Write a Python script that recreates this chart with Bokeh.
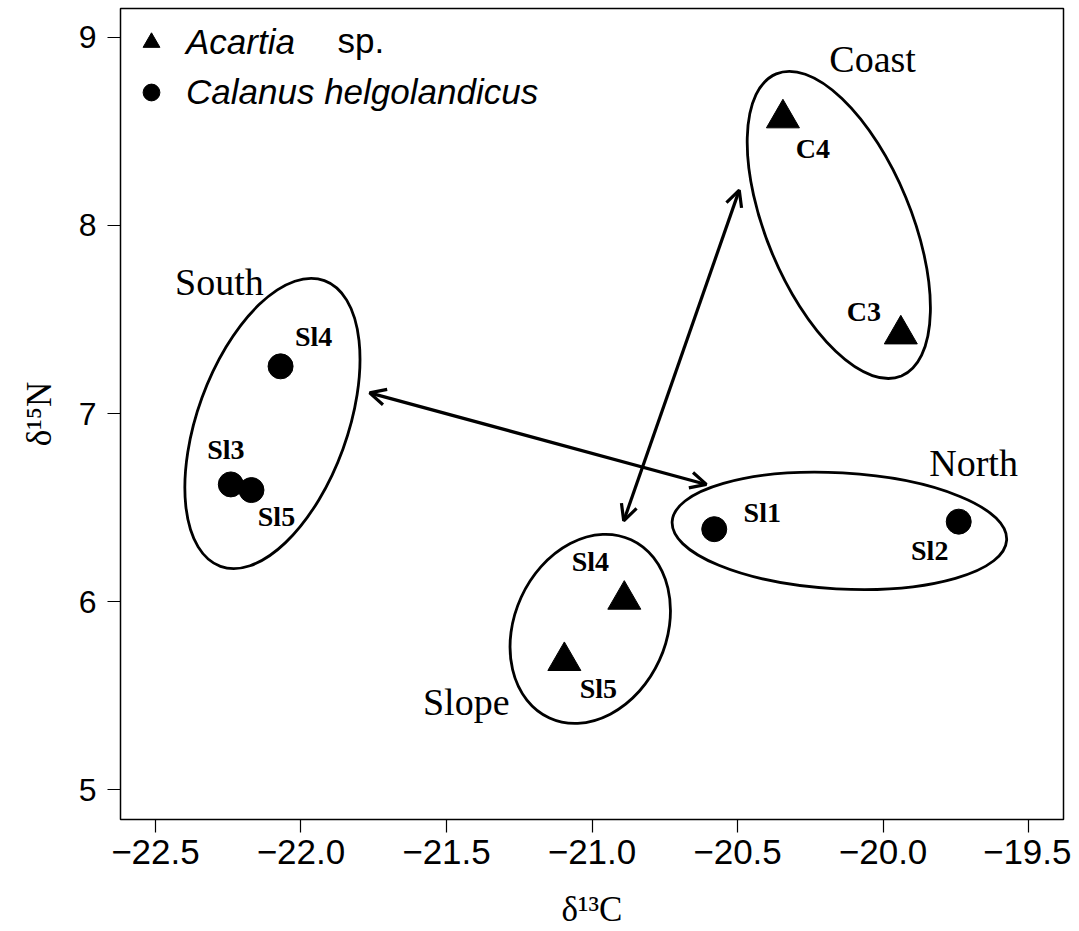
from bokeh.plotting import figure
from bokeh.models import (Range1d, FixedTicker, Arrow, OpenHead, Legend, LegendItem,
                          Label, ColumnDataSource)
from bokeh.core.properties import value
from bokeh.embed import file_html
from bokeh.resources import INLINE

# ---------------- data ----------------
acartia_x = [-20.344, -19.939, -20.889, -21.095]
acartia_y = [8.570, 7.421, 6.010, 5.684]
acartia_lab = ["C4", "C3", "Sl4", "Sl5"]

calanus_x = [-22.070, -22.241, -22.170, -20.580, -19.740]
calanus_y = [7.251, 6.623, 6.593, 6.385, 6.425]
calanus_lab = ["Sl4", "Sl3", "Sl5", "Sl1", "Sl2"]

group_names = ["South", "Coast", "North", "Slope"]
group_cx = [-22.098, -20.152, -20.150, -21.006]
group_cy = [6.947, 8.003, 6.376, 5.855]
group_text_x = [-22.280, -20.036, -19.689, -21.432]
group_text_y = [7.702, 8.883, 6.735, 5.467]

arrow_x0 = [-21.764, -20.494]
arrow_y0 = [7.110, 8.188]
arrow_x1 = [-20.607, -20.891]
arrow_y1 = [6.623, 6.429]

x_ticks = [-22.5, -22.0, -21.5, -21.0, -20.5, -20.0, -19.5]
x_tick_labels = ["\u221222.5", "\u221222.0", "\u221221.5", "\u221221.0",
                 "\u221220.5", "\u221220.0", "\u221219.5"]
y_ticks = [5, 6, 7, 8, 9]

# ---------------- layout / style (screen px) ----------------
acartia_dx = [30, -37, -34, 34]
acartia_dy = [30, -23, -38, 28]
calanus_dx = [33, -5, 25, 48, -29]
calanus_dy = [-30, -35, 26, -17, 29]

ell_w = [304, 327, 335, 196]
ell_h = [150, 145, 116, 152]
ell_angle = [70, 112.5, -3.15, 65.4]

SERIF = value("Liberation Serif")
SANS = "Liberation Sans"

p = figure(width=1071, height=931, output_backend="svg", toolbar_location=None,
           x_range=Range1d(-22.62, -19.38), y_range=Range1d(4.841, 9.154),
           min_border_left=120, min_border_right=8, min_border_top=8,
           min_border_bottom=110)

p.xgrid.visible = False
p.ygrid.visible = False
p.background_fill_color = "white"
p.border_fill_color = "white"
p.outline_line_color = "black"
p.outline_line_width = 1.5

# axes
for ax in (p.xaxis[0], p.yaxis[0]):
    ax.axis_line_color = None
    ax.major_tick_in = 0
    ax.major_tick_out = 13
    ax.major_tick_line_color = "black"
    ax.major_tick_line_width = 1.2
    ax.minor_tick_line_color = None
    ax.major_label_text_font = SANS
    ax.major_label_text_color = "black"
    ax.axis_label_text_font = "Liberation Serif"
    ax.axis_label_text_font_style = "normal"
    ax.axis_label_text_color = "black"
    ax.axis_label_text_font_size = "35px"

p.xaxis.ticker = FixedTicker(ticks=x_ticks)
p.xaxis.major_label_overrides = {t: l for t, l in zip(x_ticks, x_tick_labels)}
p.xaxis.major_label_text_font_size = "35px"
p.xaxis.major_label_standoff = 7
p.xaxis.axis_label = "\u03b4\u00b9\u00b3C"
p.xaxis.axis_label_standoff = 23

p.yaxis.ticker = FixedTicker(ticks=y_ticks)
p.yaxis.major_label_text_font_size = "32px"
p.yaxis.major_label_standoff = 11
p.yaxis.axis_label = "\u03b4\u00b9\u2075N"
p.yaxis.axis_label_standoff = 17

# ellipses
p.ellipse(x=group_cx, y=group_cy, width=ell_w, height=ell_h, angle=ell_angle,
          width_units="screen", height_units="screen", angle_units="deg",
          fill_color=None, line_color="black", line_width=2.8)

# arrows
for x0, y0, x1, y1 in zip(arrow_x0, arrow_y0, arrow_x1, arrow_y1):
    p.add_layout(Arrow(start=OpenHead(size=16, line_width=3.2, line_color="black"),
                       end=OpenHead(size=16, line_width=3.2, line_color="black"),
                       x_start=x0, y_start=y0, x_end=x1, y_end=y1,
                       line_width=3.2, line_color="black"))

# points
r_tri = p.scatter(acartia_x, acartia_y, marker="triangle", size=33,
                  fill_color="black", line_color="black")
r_cir = p.scatter(calanus_x, calanus_y, marker="circle", size=25,
                  fill_color="black", line_color="black")

# point labels
src_a = ColumnDataSource(dict(x=acartia_x, y=acartia_y, t=acartia_lab,
                              dx=acartia_dx, dy=acartia_dy))
src_c = ColumnDataSource(dict(x=calanus_x, y=calanus_y, t=calanus_lab,
                              dx=calanus_dx, dy=calanus_dy))
for src in (src_a, src_c):
    p.text(x="x", y="y", text="t", x_offset="dx", y_offset="dy", source=src,
           text_font=SERIF, text_font_style="bold", text_font_size="28px",
           text_align="center", text_baseline="middle", text_color="black")

# group names
p.text(x=group_text_x, y=group_text_y, text=group_names,
       text_font=SERIF, text_font_size="38px", text_align="center",
       text_baseline="middle", text_color="black")

# legend
legend = Legend(items=[LegendItem(label="Acartia", renderers=[r_tri]),
                       LegendItem(label="Calanus helgolandicus", renderers=[r_cir])],
                location="top_left", margin=10, padding=10, spacing=2,
                glyph_width=42, glyph_height=48, label_standoff=14,
                border_line_color=None, background_fill_alpha=0,
                label_text_font=SANS, label_text_font_style="italic",
                label_text_font_size="35px", label_text_color="black")
p.add_layout(legend)
p.add_layout(Label(x=217, y=779, x_units="screen", y_units="screen", text="sp.",
                   text_font=SANS, text_font_size="35px", text_baseline="middle",
                   text_color="black"))

open("out.html", "w").write(file_html(p, INLINE))
